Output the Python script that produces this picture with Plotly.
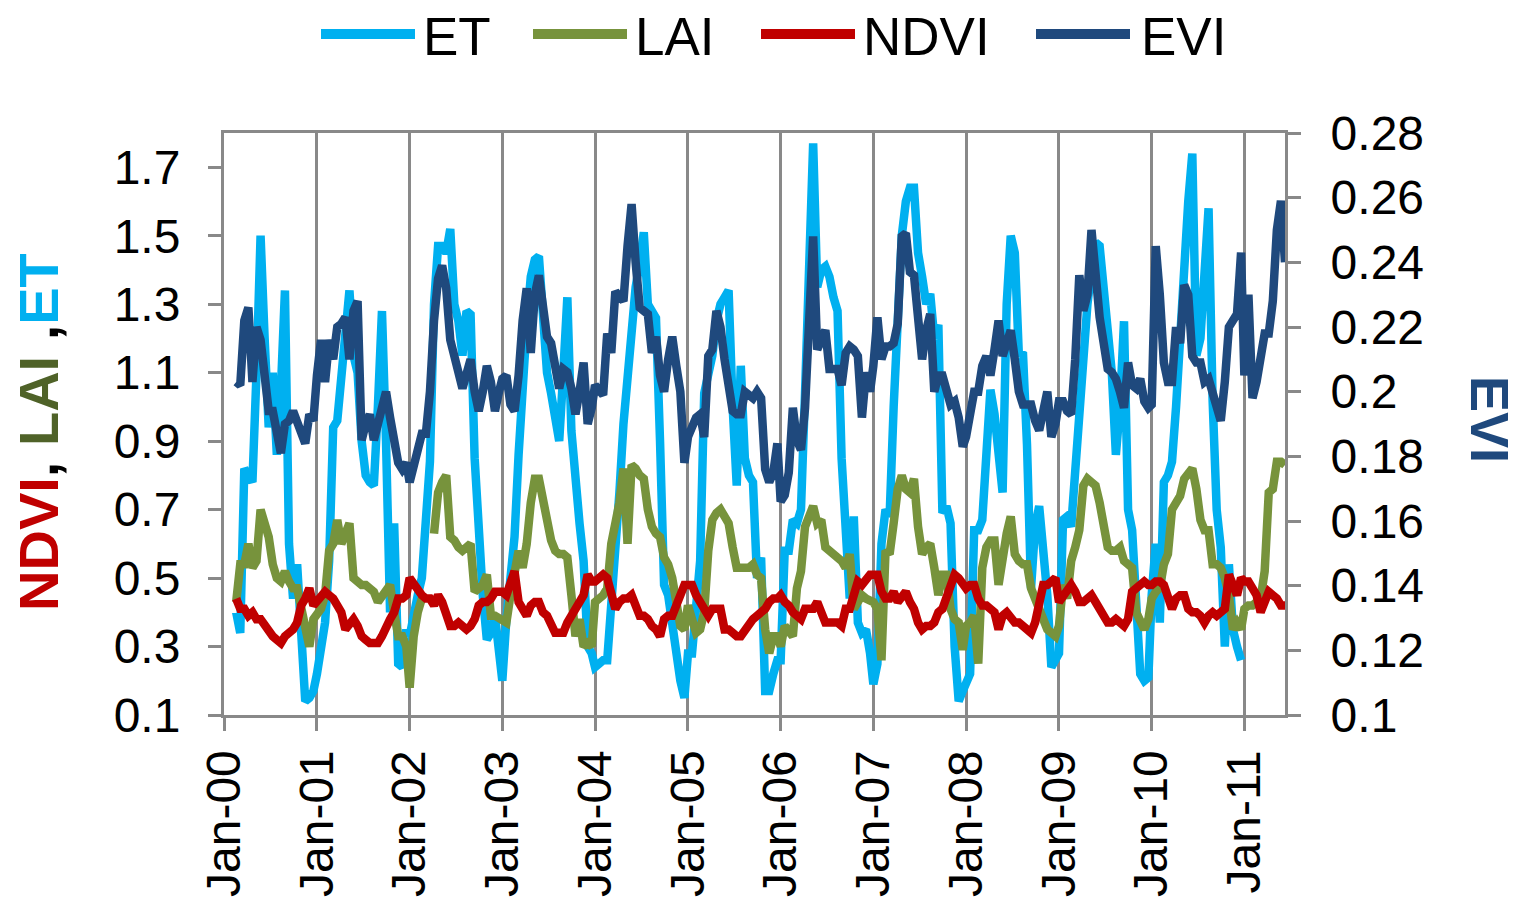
import datetime as dt
import plotly.graph_objects as go

# 16-day composite dates (DOY 1, 17, ..., 353), Feb 2000 - Jun 2011
START = dt.date(2000, 2, 18)
END = dt.date(2011, 6, 10)
dates = [dt.date(y, 1, 1) + dt.timedelta(days=d - 1)
         for y in range(2000, 2012) for d in range(1, 366, 16)]
dates = [d for d in dates if START <= d <= END]

year_ticks = [f"{y}-01-01" for y in range(2000, 2012)]
year_labels = [f"Jan-{y % 100:02d}" for y in range(2000, 2012)]
left_ticks = [0.1, 0.3, 0.5, 0.7, 0.9, 1.1, 1.3, 1.5, 1.7]
left_labels = ["0.1", "0.3", "0.5", "0.7", "0.9", "1.1", "1.3", "1.5", "1.7"]
right_ticks = [0.1, 0.12, 0.14, 0.16, 0.18, 0.2, 0.22, 0.24, 0.26, 0.28]
right_labels = ["0.1", "0.12", "0.14", "0.16", "0.18", "0.2", "0.22", "0.24", "0.26", "0.28"]

ET = (
    [0.40, 0.34, 0.82, 0.80, 0.78, 1.10, 1.50, 1.20, 0.94, 1.10, 0.86, 1.05, 1.34, 0.60, 0.44, 0.54, 0.30, 0.14, 0.15, 0.17]
    + [0.22, 0.31, 0.37, 0.55, 0.94, 0.96, 1.10, 1.20, 1.34, 1.15, 1.10, 0.90, 0.80, 0.78, 0.77, 1.00, 1.28, 0.90, 0.40, 0.66, 0.25, 0.24, 0.35]
    + [0.33, 0.40, 0.45, 0.50, 0.65, 0.84, 1.30, 1.47, 1.47, 1.45, 1.52, 1.30, 1.25, 1.15, 1.28, 1.27, 0.85, 0.60, 0.45, 0.32, 0.34, 0.39, 0.30]
    + [0.20, 0.38, 0.50, 0.62, 0.86, 1.10, 1.24, 1.38, 1.43, 1.44, 1.30, 1.10, 1.04, 0.96, 0.90, 1.10, 1.32, 0.93, 0.75, 0.66, 0.55, 0.30, 0.28]
    + [0.24, 0.25, 0.26, 0.26, 0.40, 0.55, 0.75, 0.95, 1.10, 1.25, 1.35, 1.42, 1.51, 1.30, 1.28, 1.26, 0.90, 0.48, 0.45, 0.35, 0.25, 0.20, 0.15]
    + [0.28, 0.28, 0.45, 0.55, 1.04, 1.10, 1.15, 1.25, 1.30, 1.32, 1.34, 1.00, 0.77, 1.12, 0.85, 0.80, 0.78, 0.50, 0.56, 0.17, 0.17, 0.22, 0.26]
    + [0.26, 0.58, 0.58, 0.67, 0.66, 0.70, 1.04, 1.40, 1.77, 1.35, 1.40, 1.41, 1.38, 1.32, 1.28, 0.85, 0.60, 0.44, 0.68, 0.37, 0.34, 0.35, 0.28]
    + [0.19, 0.25, 0.60, 0.70, 0.68, 1.00, 1.30, 1.50, 1.60, 1.64, 1.64, 1.45, 1.38, 1.30, 1.33, 1.20, 1.24, 0.69, 0.71, 0.66, 0.30, 0.14, 0.17]
    + [0.20, 0.22, 0.64, 0.64, 0.67, 0.85, 1.05, 0.98, 0.88, 0.75, 1.30, 1.50, 1.45, 1.15, 1.16, 0.89, 0.47, 0.65, 0.71, 0.59, 0.45, 0.24, 0.26]
    + [0.28, 0.67, 0.68, 0.65, 0.82, 1.00, 1.15, 1.30, 1.40, 1.48, 1.47, 1.35, 1.25, 1.10, 0.86, 1.00, 1.25, 0.70, 0.64, 0.37, 0.22, 0.20, 0.21]
    + [0.45, 0.60, 0.37, 0.78, 0.80, 0.84, 1.00, 1.20, 1.45, 1.60, 1.74, 1.15, 1.20, 1.40, 1.58, 1.02, 0.70, 0.59, 0.30, 0.54, 0.35, 0.30, 0.26]
    + [None] * 11
)

LAI = (
    [0.43, 0.54, 0.54, 0.60, 0.53, 0.55, 0.70, 0.66, 0.62, 0.54, 0.50, 0.49, 0.52, 0.49, 0.47, 0.47, 0.42, 0.36, 0.30, 0.38]
    + [0.40, 0.41, 0.45, 0.58, 0.60, 0.67, 0.60, 0.64, 0.66, 0.50, 0.49, 0.48, 0.48, 0.47, 0.46, 0.43, 0.45, 0.46, 0.48, 0.40, 0.33, 0.33, 0.30]
    + [0.18, 0.33, 0.40, 0.44, 0.45, None, 0.63, 0.75, 0.78, 0.80, 0.62, 0.61, 0.59, 0.58, 0.59, 0.60, 0.46, 0.47, 0.48, 0.51, 0.39, 0.39, 0.38]
    + [0.38, 0.37, 0.45, 0.53, 0.58, 0.53, 0.60, 0.72, 0.79, 0.79, 0.72, 0.66, 0.61, 0.58, 0.57, 0.57, 0.56, 0.45, 0.33, 0.38, 0.30, 0.31, 0.30]
    + [0.43, 0.44, 0.45, 0.47, 0.60, 0.66, 0.72, 0.82, 0.60, 0.83, 0.82, 0.80, 0.79, 0.70, 0.65, 0.63, 0.62, 0.56, 0.54, 0.50, 0.44, 0.36, 0.35]
    + [0.42, 0.38, 0.34, 0.35, 0.40, 0.58, 0.67, 0.69, 0.70, 0.68, 0.66, 0.59, 0.53, 0.53, 0.53, 0.53, 0.54, 0.51, 0.50, 0.35, 0.28, 0.33, 0.33]
    + [0.30, 0.36, 0.34, 0.33, 0.47, 0.52, 0.65, 0.69, 0.71, 0.66, 0.67, 0.59, 0.58, 0.57, 0.56, 0.55, 0.53, 0.57, 0.41, 0.43, 0.45, 0.44, 0.43]
    + [0.43, 0.41, 0.26, 0.58, 0.57, 0.66, 0.76, 0.80, 0.76, 0.75, 0.79, 0.65, 0.57, 0.59, 0.60, 0.53, 0.45, 0.51, 0.51, 0.41, 0.38, 0.37, 0.29]
    + [0.36, 0.37, 0.39, 0.25, 0.53, 0.59, 0.61, 0.61, 0.48, 0.58, 0.63, 0.68, 0.57, 0.55, 0.54, 0.54, 0.47, 0.44, 0.41, 0.38, 0.35, 0.34, 0.33]
    + [0.36, 0.48, 0.44, 0.55, 0.59, 0.64, 0.77, 0.79, 0.78, 0.77, 0.72, 0.65, 0.59, 0.58, 0.58, 0.59, 0.55, 0.54, 0.53, 0.40, 0.38, 0.35, 0.38]
    + [0.44, 0.46, 0.47, 0.54, 0.57, 0.70, 0.72, 0.74, 0.79, 0.81, 0.82, 0.76, 0.67, 0.64, 0.64, 0.54, 0.54, 0.53, 0.50, 0.45, 0.35, 0.37, 0.35]
    + [0.41, 0.42, 0.42, 0.43, 0.44, 0.52, 0.75, 0.76, 0.84, 0.84, 0.83]
)

NDVI = (
    [0.44, 0.41, 0.41, 0.39, 0.40, 0.38, 0.38, 0.36, 0.34, 0.33, 0.32, 0.31, 0.33, 0.34, 0.35, 0.37, 0.42, 0.44, 0.47, 0.42]
    + [0.43, 0.45, 0.46, 0.45, 0.44, 0.42, 0.40, 0.35, 0.37, 0.38, 0.36, 0.33, 0.32, 0.31, 0.31, 0.31, 0.33, 0.36, 0.38, 0.40, 0.44, 0.44, 0.45]
    + [0.50, 0.48, 0.47, 0.45, 0.44, 0.44, 0.42, 0.45, 0.43, 0.39, 0.36, 0.36, 0.37, 0.36, 0.35, 0.36, 0.38, 0.42, 0.43, 0.43, 0.44, 0.46, 0.46]
    + [0.46, 0.45, 0.48, 0.52, 0.43, 0.41, 0.39, 0.42, 0.43, 0.43, 0.40, 0.39, 0.37, 0.34, 0.34, 0.34, 0.37, 0.39, 0.41, 0.42, 0.45, 0.51, 0.49]
    + [0.49, 0.50, 0.51, 0.50, 0.46, 0.41, 0.43, 0.44, 0.44, 0.45, 0.42, 0.39, 0.39, 0.38, 0.36, 0.35, 0.33, 0.38, 0.39, 0.39, 0.42, 0.46, 0.48]
    + [0.48, 0.48, 0.45, 0.43, 0.40, 0.39, 0.41, 0.41, 0.41, 0.35, 0.35, 0.34, 0.33, 0.33, 0.35, 0.37, 0.38, 0.39, 0.40, 0.41, 0.43, 0.44, 0.44]
    + [0.45, 0.43, 0.42, 0.40, 0.39, 0.38, 0.41, 0.41, 0.41, 0.43, 0.40, 0.37, 0.37, 0.37, 0.37, 0.36, 0.41, 0.41, 0.45, 0.49, 0.48, 0.50, 0.51]
    + [0.51, 0.51, 0.46, 0.44, 0.44, 0.46, 0.43, 0.45, 0.46, 0.43, 0.41, 0.37, 0.35, 0.36, 0.36, 0.37, 0.40, 0.41, 0.44, 0.48, 0.51, 0.50, 0.48]
    + [0.47, 0.48, 0.48, 0.44, 0.42, 0.42, 0.41, 0.40, 0.35, 0.39, 0.40, 0.38, 0.37, 0.37, 0.36, 0.35, 0.34, 0.37, 0.44, 0.48, 0.48, 0.49, 0.50]
    + [0.43, 0.45, 0.47, 0.48, 0.46, 0.43, 0.43, 0.44, 0.45, 0.43, 0.41, 0.38, 0.37, 0.37, 0.38, 0.37, 0.36, 0.38, 0.46, 0.47, 0.48, 0.49, 0.48]
    + [0.48, 0.49, 0.49, 0.48, 0.44, 0.41, 0.44, 0.45, 0.45, 0.41, 0.40, 0.40, 0.39, 0.37, 0.39, 0.40, 0.39, 0.40, 0.41, 0.51, 0.48, 0.45, 0.50]
    + [0.49, 0.49, 0.47, 0.45, 0.40, 0.43, 0.46, 0.45, 0.44, 0.42, 0.42]
)

EVI = (
    [0.203, 0.202, 0.222, 0.226, 0.203, 0.220, 0.216, 0.205, 0.194, 0.194, 0.187, 0.181, 0.190, 0.191, 0.194, 0.190, 0.186, 0.184, 0.193, 0.191]
    + [0.205, 0.216, 0.203, 0.216, 0.210, 0.220, 0.221, 0.223, 0.210, 0.225, 0.228, 0.185, 0.190, 0.193, 0.185, 0.190, 0.196, 0.200, 0.192, 0.185, 0.178, 0.176, 0.178]
    + [0.172, 0.178, 0.184, 0.187, 0.187, 0.200, 0.222, 0.235, 0.239, 0.232, 0.216, 0.212, 0.206, 0.201, 0.206, 0.210, 0.200, 0.194, 0.200, 0.208, 0.203, 0.194, 0.200]
    + [0.204, 0.205, 0.196, 0.194, 0.205, 0.222, 0.232, 0.212, 0.230, 0.236, 0.226, 0.217, 0.215, 0.208, 0.201, 0.207, 0.206, 0.201, 0.193, 0.200, 0.209, 0.190, 0.195]
    + [0.202, 0.200, 0.199, 0.218, 0.212, 0.231, 0.229, 0.228, 0.245, 0.258, 0.240, 0.226, 0.225, 0.224, 0.212, 0.217, 0.205, 0.200, 0.210, 0.217, 0.208, 0.200, 0.178]
    + [0.186, 0.189, 0.192, 0.193, 0.186, 0.211, 0.213, 0.225, 0.220, 0.210, 0.203, 0.194, 0.193, 0.193, 0.200, 0.199, 0.198, 0.200, 0.198, 0.176, 0.172, 0.175, 0.184]
    + [0.166, 0.168, 0.175, 0.195, 0.185, 0.182, 0.195, 0.230, 0.248, 0.213, 0.216, 0.219, 0.207, 0.207, 0.207, 0.202, 0.212, 0.214, 0.213, 0.211, 0.192, 0.206, 0.200]
    + [0.208, 0.223, 0.210, 0.214, 0.214, 0.215, 0.221, 0.248, 0.249, 0.237, 0.236, 0.225, 0.210, 0.219, 0.224, 0.200, 0.205, 0.205, 0.201, 0.196, 0.197, 0.192, 0.183]
    + [0.186, 0.193, 0.200, 0.200, 0.208, 0.211, 0.205, 0.213, 0.222, 0.211, 0.215, 0.219, 0.210, 0.200, 0.196, 0.196, 0.196, 0.191, 0.188, 0.194, 0.200, 0.186, 0.190]
    + [0.197, 0.197, 0.194, 0.193, 0.210, 0.236, 0.225, 0.230, 0.250, 0.235, 0.223, 0.215, 0.207, 0.206, 0.204, 0.200, 0.195, 0.209, 0.202, 0.201, 0.204, 0.197, 0.195]
    + [0.196, 0.245, 0.230, 0.209, 0.203, 0.203, 0.220, 0.215, 0.233, 0.230, 0.211, 0.209, 0.209, 0.203, 0.204, 0.200, 0.196, 0.191, 0.203, 0.220, 0.222, 0.224, 0.243]
    + [0.205, 0.230, 0.198, 0.203, 0.212, 0.218, 0.218, 0.228, 0.250, 0.259, 0.240]
)

for series in (ET, LAI, NDVI, EVI):
    assert len(series) == len(dates), (len(series), len(dates))

C_ET, C_LAI, C_NDVI, C_EVI = "#00B0F0", "#77933C", "#C00000", "#1F497D"
GRAY = "#898989"
FONT = "Liberation Sans, Arial, sans-serif"

W, H = 1521, 901
L, R, T, B = 224, 236, 133, 186
PW, PH = W - L - R, H - T - B


def px(x):
    return (x - L) / PW


def py(y):
    return (H - B - y) / PH


fig = go.Figure()
line_w = 8.5
fig.add_trace(go.Scatter(x=dates, y=ET, mode="lines", name="ET",
                         line=dict(color=C_ET, width=line_w), connectgaps=False))
fig.add_trace(go.Scatter(x=dates, y=LAI, mode="lines", name="LAI",
                         line=dict(color=C_LAI, width=line_w), connectgaps=False))
fig.add_trace(go.Scatter(x=dates, y=NDVI, mode="lines", name="NDVI",
                         line=dict(color=C_NDVI, width=line_w)))
fig.add_trace(go.Scatter(x=dates, y=EVI, mode="lines", name="EVI", yaxis="y2",
                         line=dict(color=C_EVI, width=line_w)))

tickfont = dict(family=FONT, size=48, color="black")
fig.update_layout(
    width=W, height=H,
    margin=dict(l=L, r=R, t=T, b=B, pad=0),
    paper_bgcolor="white", plot_bgcolor="white",
    showlegend=False,
    xaxis=dict(
        type="date", range=["2000-01-01", "2011-06-10"],
        tickmode="array", tickvals=year_ticks, ticktext=year_labels,
        tickangle=-90, tickfont=tickfont,
        ticks="outside", ticklen=13, tickwidth=2.5, tickcolor=GRAY,
        showgrid=True, gridcolor=GRAY, gridwidth=2.5,
        showline=True, linecolor=GRAY, linewidth=3, mirror=True,
        zeroline=False, automargin=False,
    ),
    yaxis=dict(
        range=[0.1, 1.8], tickmode="array", tickvals=left_ticks, ticktext=left_labels,
        tickfont=tickfont, ticks="outside", ticklen=13, tickwidth=2.5, tickcolor=GRAY,
        showgrid=False, showline=True, linecolor=GRAY, linewidth=3,
        zeroline=False, automargin=False, ticklabelstandoff=18,
    ),
    yaxis2=dict(
        range=[0.1, 0.28], overlaying="y", side="right",
        tickmode="array", tickvals=right_ticks, ticktext=right_labels,
        tickfont=tickfont, ticks="outside", ticklen=13, tickwidth=2.5, tickcolor=GRAY,
        showgrid=False, showline=True, linecolor=GRAY, linewidth=3,
        zeroline=False, automargin=False, ticklabelstandoff=20,
    ),
)

# Legend drawn as line samples and labels above the plot
legend_items = [("ET", C_ET, 321, 415, 424), ("LAI", C_LAI, 533, 627, 636),
                ("NDVI", C_NDVI, 761, 855, 864), ("EVI", C_EVI, 1036, 1130, 1142)]
for name, color, x0, x1, xt in legend_items:
    fig.add_shape(type="line", xref="paper", yref="paper",
                  x0=px(x0), x1=px(x1), y0=py(34), y1=py(34),
                  line=dict(color=color, width=10))
    fig.add_annotation(xref="paper", yref="paper", x=px(xt - 3), y=py(37),
                       xanchor="left", yanchor="middle", showarrow=False,
                       text=name, font=dict(family=FONT, size=53, color="black"))

left_title = (f"<b><span style='color:{C_NDVI}'>NDVI</span>, "
              f"<span style='color:#4F6228'>LAI</span> ,"
              f"<span style='color:{C_ET}'>ET</span></b>")
fig.add_annotation(xref="paper", yref="paper", x=px(38), y=py(432),
                   xanchor="center", yanchor="middle", showarrow=False,
                   textangle=-90, text=left_title,
                   font=dict(family=FONT, size=56, color="black"))
fig.add_annotation(xref="paper", yref="paper", x=px(1490), y=py(419),
                   xanchor="center", yanchor="middle", showarrow=False,
                   textangle=90, text="<b>EVI</b>",
                   font=dict(family=FONT, size=54, color=C_EVI))

fig.write_html("out.html")
